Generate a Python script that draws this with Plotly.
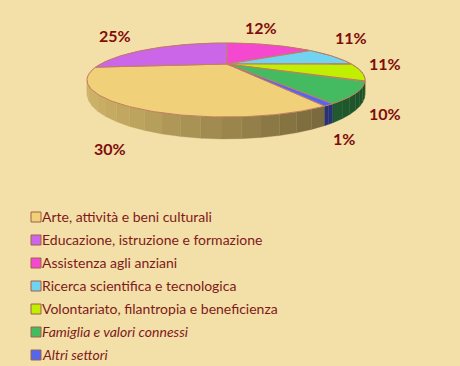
import numpy as np
import plotly.graph_objects as go

categories = ["Arte, attività e beni culturali", "Educazione, istruzione e formazione",
              "Assistenza agli anziani", "Ricerca scientifica e tecnologica",
              "Volontariato, filantropia e beneficienza", "<i>Famiglia e valori connessi</i>",
              "<i>Altri settori</i>"]
values = [30, 25, 12, 11, 11, 10, 1]
colors = ["#F0D078", "#CC66E8", "#F548D0", "#70D4F0", "#C0F000", "#44BB60", "#5566EE"]
label_pos = [(110, 148), (115, 35), (261, 27), (351, 37), (385, 63), (385, 113), (344, 138)]

# perspective warp of the rim angle (degrees), as harmonics of the true angle
warp = np.array([-4.81, -20.93, 9.63, 5.74, -4.21])

cx, cy, rx, ry = 226, 80, 139, 37
apex = (227, 64)

def rim(theta_deg):
    th = np.radians(theta_deg)
    t = theta_deg + warp @ np.array([np.ones_like(th), np.sin(th), np.cos(th), np.sin(2*th), np.cos(2*th)])
    tr = np.radians(t)
    return cx + rx*np.sin(tr), cy - ry*np.cos(tr), tr

def hexrgb(h, f=1.0):
    return tuple(int(int(h[i:i+2], 16)*f) for i in (1, 3, 5))

fig = go.Figure()
start = 162.0
edge = "rgb(196,125,95)"
ang = start
spans = []
for v in values:
    spans.append((ang, ang + v*3.6))
    ang += v*3.6
for (a0, a1), col in zip(spans, colors):
    n = max(2, int((a1-a0)/5))
    e = np.linspace(a0, a1, n+1)
    for s, f in zip(e[:-1], e[1:]):
        tt = np.array([s, f])
        x, y, tr = rim(tt)
        dep = 14 - 8*np.cos(tr)
        sh = 0.86 - 0.42*(x.mean()-87)/278
        r, g, b = hexrgb(col, sh)
        fig.add_trace(go.Scatter(x=[x[0], x[1], x[1], x[0], x[0]], y=[y[0], y[1], y[1]+dep[1], y[0]+dep[0], y[0]],
                                 fill="toself", mode="lines", line=dict(width=0.3, color=f"rgb({r},{g},{b})"),
                                 fillcolor=f"rgb({r},{g},{b})", hoverinfo="skip", showlegend=False))
for (a0, a1), col in zip(spans, colors):
    tt = np.linspace(a0, a1, max(3, int(a1-a0)))
    x, y, tr = rim(tt)
    fig.add_trace(go.Scatter(x=[apex[0], *x, apex[0]], y=[apex[1], *y, apex[1]], fill="toself", mode="lines",
                             line=dict(width=1, color=edge), fillcolor=col, hoverinfo="skip", showlegend=False))

for (px, py), v in zip(label_pos, values):
    fig.add_annotation(x=px, y=py, text=f"<b>{v}%</b>", showarrow=False,
                       font=dict(family="Lato", size=16, color="#7F0C0C"))
row_y = [217, 240, 263, 286, 309, 332, 355]
fig.add_trace(go.Scatter(x=[36]*7, y=row_y, mode="markers", hoverinfo="skip", showlegend=False,
                         marker=dict(symbol="square", size=10, color=colors, line=dict(width=1, color="#A0604A"))))
for yy, c in zip(row_y, categories):
    fig.add_annotation(x=40, y=yy-1, text=c, showarrow=False, xanchor="left",
                       font=dict(family="Lato", size=14, color="#7F1A1A"))
bg = "#F3DFA8"
fig.update_layout(width=460, height=366, margin=dict(l=0, r=0, t=0, b=0), paper_bgcolor=bg, plot_bgcolor=bg,
                  xaxis=dict(range=[0, 460], visible=False, fixedrange=True),
                  yaxis=dict(range=[366, 0], visible=False, fixedrange=True), showlegend=False)
fig.write_html("out.html", config=dict(displayModeBar=False),
               post_script="document.body.style.margin='0';document.body.style.overflow='hidden';")
